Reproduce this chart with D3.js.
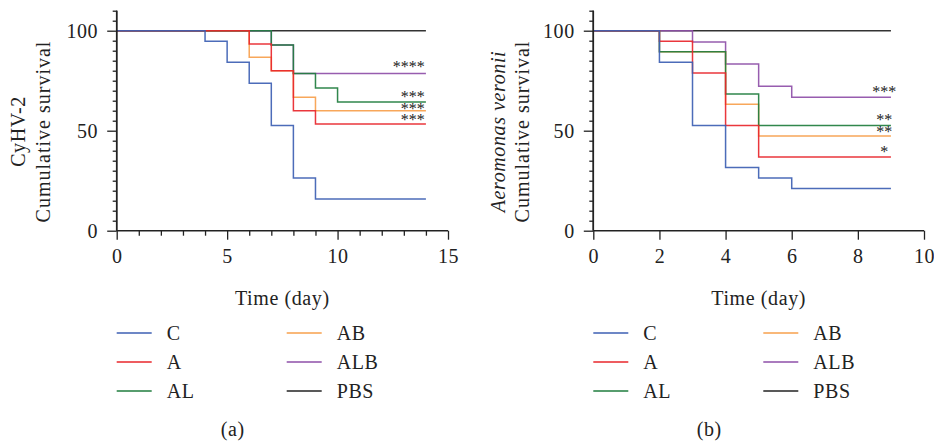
<!DOCTYPE html>
<html>
<head>
<meta charset="utf-8">
<script src="https://cdn.jsdelivr.net/npm/d3@7"></script>
<style>
  html, body { margin: 0; padding: 0; background: #fff; }
  svg { display: block; }
  text { font-family: "Liberation Serif", "Times New Roman", serif; fill: #222; }
</style>
</head>
<body>
<svg id="chart" width="934" height="444"></svg>
<script>
// ---------- DATA ----------
const groups = ["C", "A", "AL", "AB", "ALB", "PBS"];
const groupColors = ["#3d5fb3", "#e8262b", "#1f7d3e", "#f7a04c", "#8e4fa8", "#222222"];

// Panel (a): CyHV-2, survival (%) at each day 0..14
const daysA = [0,1,2,3,4,5,6,7,8,9,10,11,12,13,14];
const survA_C   = [100,100,100,100,94.7,84.2,73.7,52.6,26.3,15.8,15.8,15.8,15.8,15.8,15.8];
const survA_A   = [100,100,100,100,100,100,93.3,80,60,53.3,53.3,53.3,53.3,53.3,53.3];
const survA_AL  = [100,100,100,100,100,100,100,92.9,78.6,71.4,64.3,64.3,64.3,64.3,64.3];
const survA_AB  = [100,100,100,100,100,100,86.7,80,66.7,60,60,60,60,60,60];
const survA_ALB = [100,100,100,100,100,100,100,92.9,78.6,78.6,78.6,78.6,78.6,78.6,78.6];
const survA_PBS = [100,100,100,100,100,100,100,100,100,100,100,100,100,100,100];
const starsA = ["****", "***", "***", "***"];
const starsAY = [82.9, 68.2, 62.0, 56.7];
const xTicksA = [0, 5, 10, 15];

// Panel (b): Aeromonas veronii, survival (%) at each day 0..9
const daysB = [0,1,2,3,4,5,6,7,8,9];
const survB_C   = [100,100,84.2,52.6,31.6,26.3,21.1,21.1,21.1,21.1];
const survB_A   = [100,100,94.7,78.9,52.6,36.8,36.8,36.8,36.8,36.8];
const survB_AL  = [100,100,89.5,89.5,68.4,52.6,52.6,52.6,52.6,52.6];
const survB_AB  = [100,100,89.5,89.5,63.2,47.4,47.4,47.4,47.4,47.4];
const survB_ALB = [100,100,100,94.4,83.3,72.2,66.7,66.7,66.7,66.7];
const survB_PBS = [100,100,100,100,100,100,100,100,100,100];
const starsB = ["***", "**", "**", "*"];
const starsBY = [70.7, 56.4, 50.4, 40.7];
const xTicksB = [0, 2, 4, 6, 8, 10];

const yMajor = [0, 50, 100];

// ---------- DRAW ----------
const FS = "20px";
const LS = "0.6px";
const svg = d3.select("#chart");
svg.append("rect").attr("width", 934).attr("height", 444).attr("fill", "#fff");

function label(sel) {
  return sel.style("font-size", FS).style("letter-spacing", LS);
}

function panel(cfg) {
  const g = svg.append("g");
  const x = d3.scaleLinear().domain(cfg.xDomain).range([cfg.x0, cfg.x1]);
  const y = d3.scaleLinear().domain([0, 110]).range([230.7, 10.7]);

  // series (draw order: PBS first, C last)
  const series = cfg.series;
  const order = [5, 4, 3, 2, 1, 0];
  const line = d3.line().x(d => x(d[0])).y(d => y(d[1])).curve(d3.curveStepAfter);
  order.forEach(i => {
    const pts = cfg.days.map((d, k) => [d, series[i][k]]);
    g.append("path")
      .attr("d", line(pts))
      .attr("fill", "none")
      .attr("stroke", groupColors[i])
      .attr("stroke-width", 1.5)
      .attr("stroke-opacity", 0.92);
  });

  // y axis: minor then major
  const yMinorTicks = d3.range(0, 111, 5).filter(v => yMajor.indexOf(v) < 0);
  const yMin = g.append("g").attr("transform", `translate(${cfg.x0},0)`)
    .call(d3.axisLeft(y).tickValues(yMinorTicks).tickSize(4).tickFormat(""));
  const yMaj = g.append("g").attr("transform", `translate(${cfg.x0},0)`)
    .call(d3.axisLeft(y).tickValues(yMajor).tickSize(9.5).tickPadding(9));
  [yMin, yMaj].forEach(a => {
    a.select(".domain").attr("stroke", "#222").attr("stroke-width", 1.5)
      .attr("d", `M0,${y(0)}V${y(110)}`);
    a.selectAll(".tick line").attr("stroke", "#222").attr("stroke-width", 1.3);
    a.selectAll("text").style("font-size", FS).style("font-family", "Liberation Serif")
      .style("letter-spacing", LS).attr("fill", "#222");
  });

  // x axis
  const xAxisG = g.append("g").attr("transform", `translate(0,${y(0)})`);
  if (cfg.xMinor) {
    const xMin = xAxisG.append("g")
      .call(d3.axisBottom(x).tickValues(cfg.xMinor.filter(v => cfg.xTicks.indexOf(v) < 0)).tickSize(5).tickFormat(""));
    xMin.select(".domain").remove();
    xMin.selectAll(".tick line").attr("stroke", "#222").attr("stroke-width", 1.3);
  }
  const xMaj = xAxisG.append("g")
    .call(d3.axisBottom(x).tickValues(cfg.xTicks).tickSize(9).tickPadding(9));
  xMaj.select(".domain").attr("stroke", "#222").attr("stroke-width", 1.5)
    .attr("d", `M${cfg.x0},0H${cfg.x1}`);
  xMaj.selectAll(".tick line").attr("stroke", "#222").attr("stroke-width", 1.3);
  xMaj.selectAll("text").style("font-size", FS).style("font-family", "Liberation Serif")
    .style("letter-spacing", LS).attr("fill", "#222");

  // x axis title
  label(g.append("text").attr("x", (cfg.x0 + cfg.x1) / 2).attr("y", 305)
    .attr("text-anchor", "middle")).text("Time (day)");

  // y axis titles
  const cy = 131.5;
  const t1 = label(g.append("text")
    .attr("transform", `translate(${cfg.yt1x},${cy}) rotate(-90)`)
    .attr("text-anchor", "middle")).text(cfg.ytitle1);
  if (cfg.italic) t1.style("font-style", "italic");
  label(g.append("text")
    .attr("transform", `translate(${cfg.yt2x},${cy}) rotate(-90)`)
    .attr("text-anchor", "middle")).style("letter-spacing", "1px").text("Cumulative survival");

  // significance stars
  cfg.stars.forEach((s, i) => {
    g.append("text")
      .attr("x", x(cfg.starX))
      .attr("y", y(cfg.starsY[i]) + 7.5)
      .attr("text-anchor", cfg.starAnchor)
      .style("font-size", "16px")
      .attr("fill", "#333")
      .text(s);
  });

  // legend
  const rows = [333, 362, 391];
  groups.forEach((name, i) => {
    const col = i < 3 ? 0 : 1;
    const ry = rows[i % 3];
    const lx = cfg.x0 + col * 170;
    g.append("line").attr("x1", lx).attr("x2", lx + 35).attr("y1", ry).attr("y2", ry)
      .attr("stroke", groupColors[i]).attr("stroke-width", 1.6);
    label(g.append("text").attr("x", lx + 50).attr("y", ry + 6.5)).text(name);
  });

  // caption
  label(g.append("text").attr("x", cfg.x0 + 116).attr("y", 436)
    .attr("text-anchor", "middle")).text(cfg.caption);
}

panel({
  x0: 116.7, x1: 448, xDomain: [0, 15], days: daysA,
  series: [survA_C, survA_A, survA_AL, survA_AB, survA_ALB, survA_PBS],
  xTicks: xTicksA, xMinor: d3.range(0, 16, 1),
  ytitle1: "CyHV-2", italic: false, yt1x: 25, yt2x: 50,
  stars: starsA, starsY: starsAY, starX: 13.95, starAnchor: "end",
  caption: "(a)"
});

panel({
  x0: 593.3, x1: 924, xDomain: [0, 10], days: daysB,
  series: [survB_C, survB_A, survB_AL, survB_AB, survB_ALB, survB_PBS],
  xTicks: xTicksB, xMinor: null,
  ytitle1: "Aeromonas veronii", italic: true, yt1x: 505, yt2x: 529,
  stars: starsB, starsY: starsBY, starX: 8.8, starAnchor: "middle",
  caption: "(b)"
});
</script>
</body>
</html>
